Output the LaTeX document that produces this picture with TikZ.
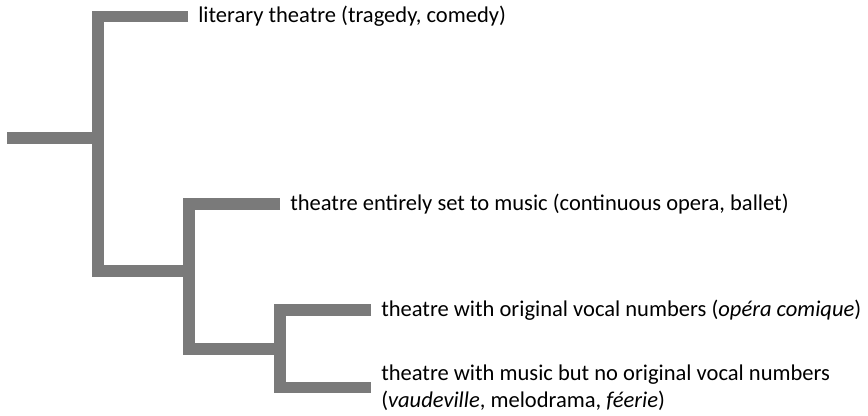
\documentclass[tikz,border=0pt]{standalone}
\usepackage{fontspec}
\setmainfont{Carlito}
\usetikzlibrary{positioning}

\definecolor{branchgray}{RGB}{122,122,122}
\tikzset{
  branch/.style={draw=branchgray, line width=8.6pt, line join=miter},
  leaf/.style={anchor=west, inner xsep=7.5pt, inner ysep=0pt, align=left,
    font=\fontsize{16.9}{20.3}\selectfont}
}

\begin{document}
\begin{tikzpicture}[x=0.75pt, y=-0.75pt]
            \useasboundingbox (0,0) rectangle (868,415);

            % junctions and ends of the branches
            \coordinate (root) at (7,138);
            \coordinate (fork1) at (98,138);
            \coordinate (fork2) at (189,271);
            \coordinate (fork3) at (280,349);
            \coordinate (end1) at (188,16.5);
            \coordinate (end2) at (280,204);
            \coordinate (end3) at (371,310);
            \coordinate (end4) at (371,387.5);

            \node[leaf] (literary) at (end1) {literary theatre (tragedy, comedy)};
            \node[leaf] (opera) at (end2) {theatre entirely set to music (continuous opera, ballet)};
            \node[leaf] (comique) at (end3) {theatre with original vocal numbers (\textit{opéra comique})};
            \node[leaf] (vaudeville) at (end4) {theatre with music but no original vocal numbers\\(\textit{vaudeville}, melodrama, \textit{féerie})};

            \draw[branch] (root) -- (fork1);
            \draw[branch] (end1) -| (fork1 |- fork2) -- (fork2);
            \draw[branch] (end2) -| (fork2 |- fork3) -- (fork3);
            \draw[branch] (end3) -| (fork3 |- end4) -- (end4);
\end{tikzpicture}
\end{document}
